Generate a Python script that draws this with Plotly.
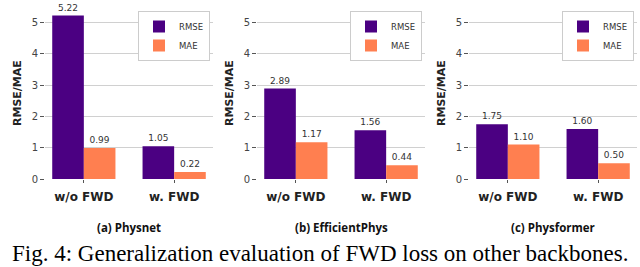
import plotly.graph_objects as go

categories = ["w/o FWD", "w. FWD"]
panels = ["(a) Physnet", "(b) EfficientPhys", "(c) Physformer"]
rmse = [[5.22, 1.05], [2.89, 1.56], [1.75, 1.60]]
mae = [[0.99, 0.22], [1.17, 0.44], [1.10, 0.50]]
y_ticks = [0, 1, 2, 3, 4, 5]
caption = "Fig. 4: Generalization evaluation of FWD loss on other backbones."

W, H = 640, 267
# plot area left/right edges in pixels for each panel
x_px = [(45, 213), (257, 425), (469, 637)]
y_dom = [1 - 179 / H, 1 - 7.4 / H]

fig = go.Figure()
layout = dict(
    width=W, height=H, margin=dict(l=0, r=0, t=0, b=0, autoexpand=False),
    paper_bgcolor="white", plot_bgcolor="white",
    barmode="group", bargap=0.3, bargroupgap=0,
    font=dict(family="DejaVu Sans", color="#333"),
    annotations=[],
)

for i, name in enumerate(panels):
    n = "" if i == 0 else str(i + 1)
    leg = "legend" + n
    xa, ya = "x" + n, "y" + n
    for vals, label, color in [(rmse[i], "RMSE", "#4B0082"), (mae[i], "MAE", "#FF7F50")]:
        fig.add_trace(go.Bar(
            x=categories, y=vals, name=label, marker=dict(color=color, line=dict(width=0)),
            text=[f"{v:.2f}" for v in vals], textposition="outside", cliponaxis=False,
            textfont=dict(size=9, color="#333"), xaxis=xa, yaxis=ya, legend=leg,
            hoverinfo="skip",
        ))
    x0, x1 = x_px[i]
    layout["xaxis" + n] = dict(
        domain=[x0 / W, x1 / W], anchor=ya, range=[-0.43, 1.43], automargin=False,
        showgrid=False, showline=False, ticks="outside", ticklen=3, tickcolor="#555",
        tickfont=dict(size=12, color="#222"), ticklabelstandoff=4,
        tickvals=categories, ticktext=[f"<b>{c}</b>" for c in categories],
    )
    layout["yaxis" + n] = dict(
        domain=y_dom, anchor=xa, range=[0, 5.481], automargin=False,
        tickvals=y_ticks, showgrid=True, gridcolor="#d0d0d0", gridwidth=1,
        zeroline=False, showline=False, ticks="outside", ticklen=4, tickcolor="#555",
        tickfont=dict(size=10, color="#444"),
    )
    layout[leg] = dict(
        x=(x1 - 3) / W, xanchor="right", y=1 - 11 / H, yanchor="top",
        bgcolor="white", bordercolor="#ccc", borderwidth=1,
        font=dict(size=8.5, color="#333"), tracegroupgap=0,
        itemwidth=30,
    )
    layout["annotations"].append(dict(
        text="<b>RMSE/MAE</b>", textangle=-90, x=(x0 - 27) / W, y=1 - 93 / H,
        xanchor="center", yanchor="middle",
        xref="paper", yref="paper", showarrow=False, font=dict(size=11, color="#222"),
    ))
    layout["annotations"].append(dict(
        text=f"<b>{name}</b>", x=(x0 + x1) / 2 / W, y=1 - 227 / H,
        xanchor="center", yanchor="middle",
        xref="paper", yref="paper", showarrow=False,
        font=dict(family="Open Sans", size=11.5, color="#111"),
    ))

layout["annotations"].append(dict(
    text=caption, x=0.5, y=1 - 253 / H, xanchor="center", yanchor="middle",
    xref="paper", yref="paper", showarrow=False,
    font=dict(family="Liberation Serif", size=23, color="black"),
))

fig.update_layout(**layout)
# the page's default body margin would shift the figure by 8px
fig.write_html("out.html", config={"displayModeBar": False},
               post_script="document.body.style.margin='0';")
